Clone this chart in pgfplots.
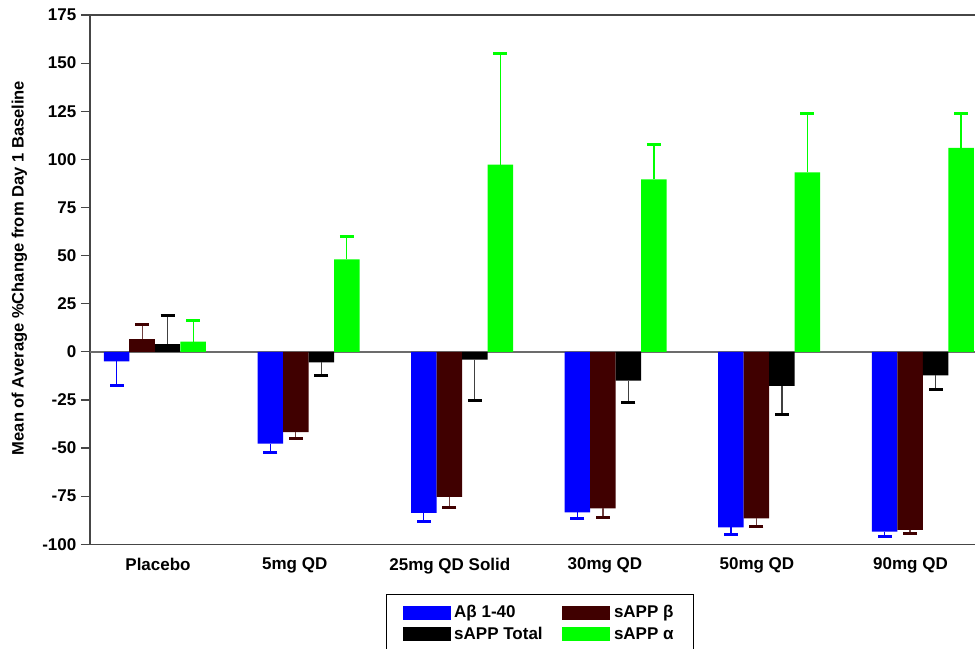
\documentclass[border=0pt]{standalone}
\usepackage{fontspec}
\setmainfont{Liberation Sans}
\usepackage{pgfplots}
\pgfplotsset{compat=1.18}
\usetikzlibrary{calc}
\definecolor{abblue}{RGB}{0,0,255}
\definecolor{betabrown}{RGB}{64,0,0}
\definecolor{alphagreen}{RGB}{0,255,0}
\definecolor{axgray}{RGB}{70,70,70}

\begin{document}
\begin{tikzpicture}[x=1pt,y=1pt]
\begin{axis}[
  name=ax,
  at={(0,0)}, anchor=south west,
  scale only axis,
  width=663.75pt, height=397pt,
  ybar,
  bar width=0.166,
  xmin=-0.423, xmax=5.34,
  ymin=-100, ymax=175,
  ytick={-100,-75,...,175},
  xtick={0.02,0.91,1.92,2.93,3.92,4.92},
  xticklabels={Placebo,5mg QD,25mg QD Solid,30mg QD,50mg QD,90mg QD},
  x tick style={draw=none},
  y tick style={axgray, line width=0.9pt},
  tick align=outside,
  major tick length=6.75pt,
  axis x line*=bottom,
  axis y line*=left,
  axis line style={axgray, line width=0.9pt},
  /pgf/number format/assume math mode=true,
  tick label style={font=\fontsize{12.75}{15}\selectfont\bfseries},
  ylabel={Mean of Average \%Change from Day 1 Baseline},
  ylabel style={font=\fontsize{12.4}{14}\selectfont\bfseries, at={(axis description cs:-0.0797,0.522)}, anchor=center, rotate=0},
  extra y ticks={0},
  extra y tick labels={},
  extra y tick style={grid=major, major grid style={gray!85!black, line width=1.1pt}},
  legend cell align=left,
  legend style={draw=black, line width=0.75pt, at={(0.3345,-0.094)}, anchor=north west,
    font=\fontsize{12.75}{15}\selectfont\bfseries, legend columns=2,
    inner xsep=12pt, inner ysep=5.5pt,
    nodes={inner sep=2.75pt},
    /tikz/every even column/.append style={column sep=12pt}},
  legend image code/.code={\fill[#1] (0pt,-5.25pt) rectangle (36pt,5.25pt);},
  error bars/error mark options={rotate=90, line width=2.25pt, mark size=5.25pt},
]
% Abeta 1-40
\addplot[fill=abblue, draw=none, bar shift=-0.249,
  error bars/.cd, y dir=minus, y explicit,
  error bar style={abblue, line width=0.9pt}]
  coordinates {(0,-5.0) -= (0,12.6) (1,-47.7) -= (0,4.7) (2,-83.6) -= (0,4.7)
               (3,-83.4) -= (0,3.1) (4,-91.2) -= (0,3.8) (5,-93.4) -= (0,2.6)};
% sAPP beta
\addplot[fill=betabrown, draw=none, bar shift=-0.083,
  error bars/.cd, y dir=minus, y explicit,
  error bar style={betabrown!75!white, line width=0.9pt},
  error mark options={rotate=90, line width=2.25pt, mark size=5.25pt, betabrown}]
  coordinates {(1,-41.7) -= (0,3.3) (2,-75.3) -= (0,5.7) (3,-81.3) -= (0,4.9)
               (4,-86.5) -= (0,4.1) (5,-92.5) -= (0,2.0)};
% sAPP Total
\addplot[fill=black, draw=none, bar shift=0.083,
  error bars/.cd, y dir=minus, y explicit,
  error bar style={black!75, line width=0.9pt},
  error mark options={rotate=90, line width=2.25pt, mark size=5.25pt, black}]
  coordinates {(1,-5.5) -= (0,6.9) (2,-4.1) -= (0,21.1) (3,-15.0) -= (0,11.4)
               (4,-17.7) -= (0,14.9) (5,-12.2) -= (0,7.3)};
% sAPP alpha
\addplot[fill=alphagreen, draw=none, bar shift=0.249,
  error bars/.cd, y dir=plus, y explicit,
  error bar style={alphagreen, line width=0.9pt}]
  coordinates {(0,5.3) += (0,11.2) (1,48.0) += (0,11.8) (2,97.2) += (0,57.9)
               (3,89.6) += (0,17.9) (4,93.3) += (0,30.6) (5,106.0) += (0,17.9)};
% placebo sAPP beta and sAPP Total (positive)
\addplot[forget plot, fill=betabrown, draw=none, bar shift=-0.083,
  error bars/.cd, y dir=plus, y explicit,
  error bar style={betabrown!75!white, line width=0.9pt},
  error mark options={rotate=90, line width=2.25pt, mark size=5.25pt, betabrown}]
  coordinates {(0,6.7) += (0,7.3)};
\addplot[forget plot, fill=black, draw=none, bar shift=0.083,
  error bars/.cd, y dir=plus, y explicit,
  error bar style={black!75, line width=0.9pt},
  error mark options={rotate=90, line width=2.25pt, mark size=5.25pt, black}]
  coordinates {(0,4.0) += (0,14.8)};
\legend{Aβ 1-40, sAPP β, sAPP Total, sAPP α}
\draw[axgray, line width=0.9pt] (rel axis cs:0,1) -- (rel axis cs:1,1);
\end{axis}
\pgfresetboundingbox
\path ($(ax.south west)+(-67.5pt,-77.8pt)$) rectangle ($(ax.north east)+(0pt,11.25pt)$);
\end{tikzpicture}
\end{document}
